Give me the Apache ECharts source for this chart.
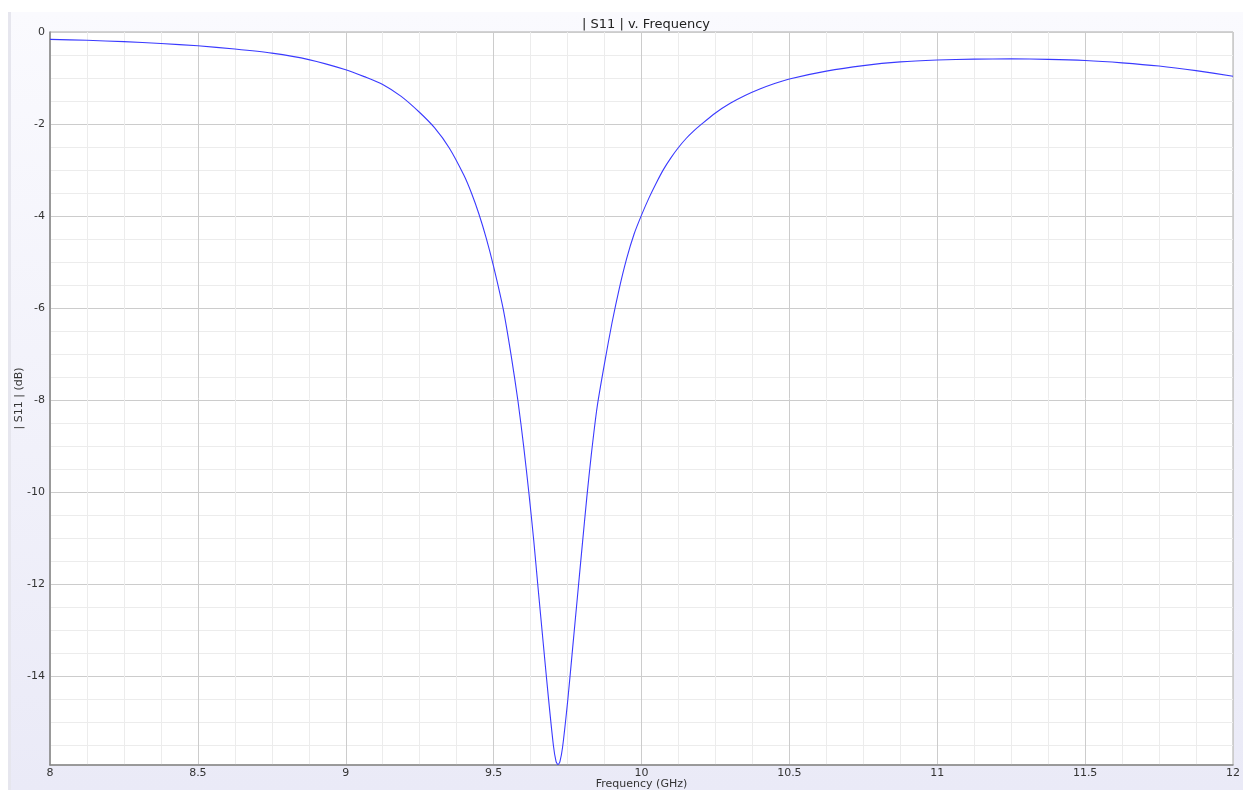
<!DOCTYPE html>
<html>
<head>
<meta charset="utf-8">
<script src="https://cdn.jsdelivr.net/npm/echarts@6/dist/echarts.min.js"></script>
<style>
html,body{margin:0;padding:0;background:#fff;}
#chart{width:1243px;height:790px;}
</style>
</head>
<body>
<div id="chart"></div>
<script>
// Frequency (GHz)
const freq = [8.000, 8.125, 8.250, 8.375, 8.500, 8.625, 8.750, 8.875, 9.000, 9.0625, 9.125, 9.1875, 9.250, 9.300, 9.350, 9.400, 9.425, 9.450, 9.475, 9.500, 9.533, 9.560, 9.5825, 9.6017, 9.6196, 9.6355, 9.650, 9.668, 9.685, 9.702, 9.711, 9.7175, 9.724, 9.733, 9.751, 9.767, 9.783, 9.799, 9.815, 9.830, 9.850, 9.875, 9.900, 9.925, 9.950, 9.975, 10.000, 10.025, 10.050, 10.075, 10.100, 10.125, 10.150, 10.175, 10.200, 10.250, 10.300, 10.350, 10.400, 10.450, 10.500, 10.625, 10.750, 10.875, 11.000, 11.125, 11.250, 11.375, 11.500, 11.625, 11.750, 11.875, 12.000];
// |S11| (dB)
const s11 = [-0.16, -0.18, -0.21, -0.25, -0.30, -0.37, -0.46, -0.60, -0.82, -0.97, -1.14, -1.40, -1.75, -2.08, -2.52, -3.12, -3.50, -3.95, -4.48, -5.10, -6.04, -7.06, -8.03, -9.01, -10.04, -11.04, -12.06, -13.30, -14.45, -15.50, -15.85, -15.92, -15.86, -15.55, -14.50, -13.40, -12.30, -11.20, -10.12, -9.20, -8.15, -7.20, -6.33, -5.57, -4.92, -4.39, -3.98, -3.61, -3.28, -2.98, -2.73, -2.51, -2.32, -2.16, -2.02, -1.76, -1.55, -1.38, -1.24, -1.12, -1.02, -0.85, -0.73, -0.65, -0.61, -0.59, -0.585, -0.595, -0.62, -0.67, -0.74, -0.84, -0.96];

const titleText = '| S11 | v. Frequency';
const xName = 'Frequency (GHz)';
const yName = '| S11 | (dB)';

const chart = echarts.init(document.getElementById('chart'), null, {renderer: 'canvas'});
const FONT = 'DejaVu Sans';
// plotted as positive loss on an inverted axis so ticks count from 0
const seriesData = freq.map((f, i) => [f, -s11[i]]);

chart.setOption({
  animation: false,
  backgroundColor: '#ffffff',
  graphic: [
    {type: 'rect', z: -10, shape: {x: 8, y: 12, width: 1235, height: 778},
     style: {fill: new echarts.graphic.LinearGradient(0, 0, 0, 1, [
       {offset: 0, color: '#fafafe'}, {offset: 1, color: '#eaeaf7'}])}},
    {type: 'rect', z: -9, shape: {x: 8, y: 12, width: 3, height: 778},
     style: {fill: '#e6e6ee'}}
  ],
  title: {
    text: titleText, left: 641, textAlign: 'center', top: 13,
    textStyle: {fontFamily: FONT, fontSize: 13, fontWeight: 'normal', color: '#222'}
  },
  grid: {left: 50, right: 10, top: 32, bottom: 25, show: true, backgroundColor: '#ffffff', borderColor: '#aaaaaa', borderWidth: 1, containLabel: false, outerBoundsMode: 'none'},
  xAxis: {
    type: 'value', min: 8, max: 12, interval: 0.5,
    name: xName, nameLocation: 'middle', nameGap: 14, nameMoveOverlap: false,
    nameTextStyle: {fontFamily: FONT, fontSize: 11, color: '#333'},
    axisLine: {onZero: false, lineStyle: {color: '#888888', width: 1.5}},
    axisTick: {show: false},
    axisLabel: {fontFamily: FONT, fontSize: 11, color: '#333', margin: 3},
    splitLine: {show: true, lineStyle: {color: '#cccccc', width: 1}},
    minorTick: {show: false, splitNumber: 4},
    minorSplitLine: {show: true, lineStyle: {color: '#ececec', width: 1}}
  },
  yAxis: {
    type: 'value', min: 0, max: 15.93, interval: 2, inverse: true,
    name: yName, nameLocation: 'middle', nameGap: 25, nameMoveOverlap: false,
    nameTextStyle: {fontFamily: FONT, fontSize: 11, color: '#333'},
    axisLine: {onZero: false, lineStyle: {color: '#888888', width: 1.5}},
    axisTick: {show: false},
    axisLabel: {fontFamily: FONT, fontSize: 11, color: '#333', margin: 5, showMaxLabel: false,
      formatter: v => (v === 0 ? '0' : '-' + v)},
    splitLine: {show: true, lineStyle: {color: '#cccccc', width: 1}},
    minorTick: {show: false, splitNumber: 4},
    minorSplitLine: {show: true, lineStyle: {color: '#ececec', width: 1}}
  },
  series: [{
    type: 'line', data: seriesData, showSymbol: false, symbol: 'none',
    smooth: 0.25,
    lineStyle: {color: '#3a3aff', width: 1.1},
    clip: true
  }]
});
</script>
</body>
</html>
